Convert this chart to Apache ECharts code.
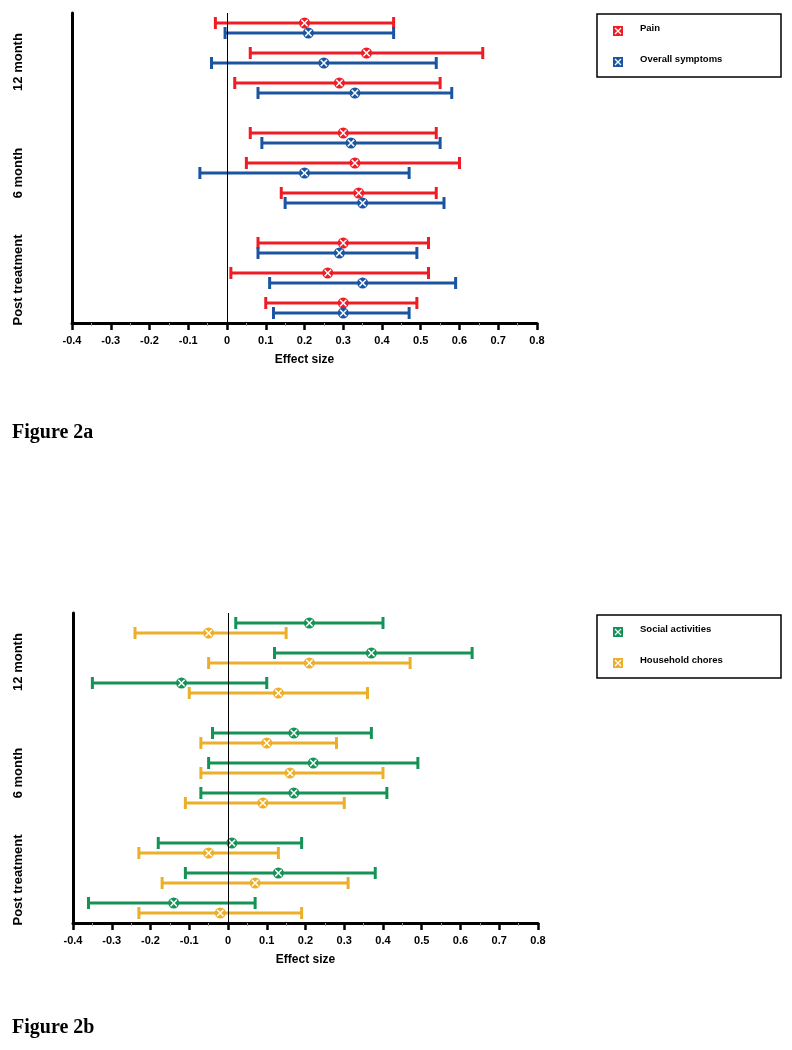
<!DOCTYPE html>
<html>
<head>
<meta charset="utf-8">
<script src="https://cdn.jsdelivr.net/npm/echarts@6/dist/echarts.min.js"></script>
<style>
html,body{margin:0;padding:0;background:#fff;}
#chart{width:792px;height:1050px;}
</style>
</head>
<body>
<div id="chart"></div>
<script>
// ---- Data (order: 12 month s1,s2,s3, 6 month s1,s2,s3, Post treatment s1,s2,s3) ----
const groups = ['12 month', '6 month', 'Post treatment'];
const studiesPerGroup = 3;
const xTicks = [-0.4, -0.3, -0.2, -0.1, 0, 0.1, 0.2, 0.3, 0.4, 0.5, 0.6, 0.7, 0.8];

const painLow   = [-0.03, 0.06, 0.02,  0.06, 0.05, 0.14,  0.08, 0.01, 0.10];
const painMean  = [ 0.20, 0.36, 0.29,  0.30, 0.33, 0.34,  0.30, 0.26, 0.30];
const painHigh  = [ 0.43, 0.66, 0.55,  0.54, 0.60, 0.54,  0.52, 0.52, 0.49];

const overallLow  = [-0.005, -0.04, 0.08,  0.09, -0.07, 0.15,  0.08, 0.11, 0.12];
const overallMean = [ 0.21,  0.25, 0.33,  0.32,  0.20, 0.35,  0.29, 0.35, 0.30];
const overallHigh = [ 0.43,  0.54, 0.58,  0.55,  0.47, 0.56,  0.49, 0.59, 0.47];

const socialLow  = [ 0.02,  0.12, -0.35,  -0.04, -0.05, -0.07,  -0.18, -0.11, -0.36];
const socialMean = [ 0.21,  0.37, -0.12,   0.17,  0.22,  0.17,   0.01,  0.13, -0.14];
const socialHigh = [ 0.40,  0.63,  0.10,   0.37,  0.49,  0.41,   0.19,  0.38,  0.07];

const choresLow  = [-0.24, -0.05, -0.10,  -0.07, -0.07, -0.11,  -0.23, -0.17, -0.23];
const choresMean = [-0.05,  0.21,  0.13,   0.10,  0.16,  0.09,  -0.05,  0.07, -0.02];
const choresHigh = [ 0.15,  0.47,  0.36,   0.28,  0.40,  0.30,   0.13,  0.31,  0.19];

const seriesNames = ['Pain', 'Overall symptoms', 'Social activities', 'Household chores'];
const colors = ['#ee1c25', '#1b55a1', '#159356', '#edae2a'];

// slot layout: groups from top; within group studies from top; first series above second
function slotOf(idx, k) {
  const g = Math.floor(idx / studiesPerGroup);      // 0 = 12 month (top)
  const s = idx % studiesPerGroup;                  // 0 = top study
  const groupBase = (groups.length - 1 - g) * 11;
  const base = groupBase + (studiesPerGroup - 1 - s) * 3 + 1;
  return k === 0 ? base + 1 : base;
}
function build(low, mean, high, k) {
  return low.map((l, i) => [l, mean[i], high[i], slotOf(i, k)]);
}

function renderItem(params, api) {
  const y = api.value(3);
  const p0 = api.coord([api.value(0), y]);
  const pm = api.coord([api.value(1), y]);
  const p1 = api.coord([api.value(2), y]);
  const color = api.visual('color');
  const cap = 6, r = 5.5, xr = 3.2;
  return {
    type: 'group',
    children: [
      {type: 'line', shape: {x1: p0[0], y1: p0[1], x2: p1[0], y2: p1[1]}, style: {stroke: color, lineWidth: 3}},
      {type: 'line', shape: {x1: p0[0], y1: p0[1] - cap, x2: p0[0], y2: p0[1] + cap}, style: {stroke: color, lineWidth: 3}},
      {type: 'line', shape: {x1: p1[0], y1: p1[1] - cap, x2: p1[0], y2: p1[1] + cap}, style: {stroke: color, lineWidth: 3}},
      {type: 'circle', shape: {cx: pm[0], cy: pm[1], r: r}, style: {fill: color}},
      {type: 'line', shape: {x1: pm[0] - xr, y1: pm[1] - xr, x2: pm[0] + xr, y2: pm[1] + xr}, style: {stroke: '#fff', lineWidth: 1.5}},
      {type: 'line', shape: {x1: pm[0] - xr, y1: pm[1] + xr, x2: pm[0] + xr, y2: pm[1] - xr}, style: {stroke: '#fff', lineWidth: 1.5}}
    ]
  };
}

const chart = echarts.init(document.getElementById('chart'), null, {renderer: 'canvas'});

function xAxisFor(gi) {
  return {
    type: 'value', gridIndex: gi, min: xTicks[0], max: xTicks[xTicks.length - 1], interval: 0.1,
    axisLine: {show: true, onZero: false, lineStyle: {color: '#000', width: 3}},
    axisTick: {show: true, length: 7, lineStyle: {color: '#000', width: 2.5}},
    minorTick: {show: true, splitNumber: 2, length: 3, lineStyle: {color: '#999', width: 1}},
    splitLine: {show: false},
    axisLabel: {color: '#000', fontFamily: 'Arial, Liberation Sans', fontWeight: 'bold', fontSize: 11, margin: 12,
      formatter: v => { const r = Math.round(v * 10) / 10; return r === 0 ? '0' : String(r); }},
    name: 'Effect size', nameLocation: 'middle', nameGap: 31,
    nameTextStyle: {color: '#000', fontFamily: 'Arial, Liberation Sans', fontWeight: 'bold', fontSize: 12}
  };
}
function yAxisFor(gi) {
  return {
    type: 'value', gridIndex: gi, min: 0, max: 31,
    axisLine: {show: true, onZero: false, lineStyle: {color: '#000', width: 3}},
    axisTick: {show: false}, axisLabel: {show: false}, splitLine: {show: false}
  };
}

const zeroLine = {
  silent: true, symbol: 'none', label: {show: false},
  lineStyle: {color: '#000', width: 1, type: 'solid'},
  data: [{xAxis: 0}]
};

function series(name, data, color, gi, withZero) {
  const s = {
    type: 'custom', name: name, xAxisIndex: gi, yAxisIndex: gi,
    data: data, renderItem: renderItem, itemStyle: {color: color},
    encode: {x: [0, 1, 2], y: 3}, clip: false, z: 3
  };
  if (withZero) { s.markLine = zeroLine; }
  return s;
}

function legendBox(x, y, items) {
  const children = [{type: 'rect', shape: {x: x, y: y, width: 184, height: 63}, style: {fill: '#fff', stroke: '#000', lineWidth: 1.5}}];
  items.forEach((it, i) => {
    const cy = y + 17 + i * 31;
    children.push({type: 'rect', shape: {x: x + 16, y: cy - 5, width: 10, height: 10}, style: {fill: it.color}});
    children.push({type: 'line', shape: {x1: x + 18, y1: cy - 3, x2: x + 24, y2: cy + 3}, style: {stroke: '#fff', lineWidth: 1.3}});
    children.push({type: 'line', shape: {x1: x + 18, y1: cy + 3, x2: x + 24, y2: cy - 3}, style: {stroke: '#fff', lineWidth: 1.3}});
    children.push({type: 'text', x: x + 43, y: cy - 3, style: {text: it.name, fill: '#000', font: 'bold 9.5px Arial, Liberation Sans', textVerticalAlign: 'middle'}});
  });
  return {type: 'group', children: children};
}

function groupLabels(offsetY) {
  const centers = [62, 173, 280];
  return groups.map((g, i) => ({
    type: 'text', x: 18, y: centers[i] + offsetY, rotation: Math.PI / 2,
    style: {text: g, fill: '#000', font: 'bold 13px Arial, Liberation Sans', textAlign: 'center', textVerticalAlign: 'middle'}
  }));
}

chart.setOption({
  animation: false,
  backgroundColor: '#fff',
  grid: [
    {left: 72, top: 13, width: 465, height: 310},
    {left: 73, top: 613, width: 465, height: 310}
  ],
  xAxis: [xAxisFor(0), xAxisFor(1)],
  yAxis: [yAxisFor(0), yAxisFor(1)],
  series: [
    series(seriesNames[0], build(painLow, painMean, painHigh, 0), colors[0], 0, true),
    series(seriesNames[1], build(overallLow, overallMean, overallHigh, 1), colors[1], 0, false),
    series(seriesNames[2], build(socialLow, socialMean, socialHigh, 0), colors[2], 1, true),
    series(seriesNames[3], build(choresLow, choresMean, choresHigh, 1), colors[3], 1, false)
  ],
  graphic: [
    legendBox(597, 14, [{name: seriesNames[0], color: colors[0]}, {name: seriesNames[1], color: colors[1]}]),
    legendBox(597, 615, [{name: seriesNames[2], color: colors[2]}, {name: seriesNames[3], color: colors[3]}]),
    ...groupLabels(0),
    ...groupLabels(600),
    {type: 'text', x: 12, y: 433, style: {text: 'Figure 2a', fill: '#000', font: 'bold 20px "Liberation Serif", "Times New Roman", serif', textVerticalAlign: 'middle'}},
    {type: 'text', x: 12, y: 1028, style: {text: 'Figure 2b', fill: '#000', font: 'bold 20px "Liberation Serif", "Times New Roman", serif', textVerticalAlign: 'middle'}}
  ]
});
</script>
</body>
</html>
